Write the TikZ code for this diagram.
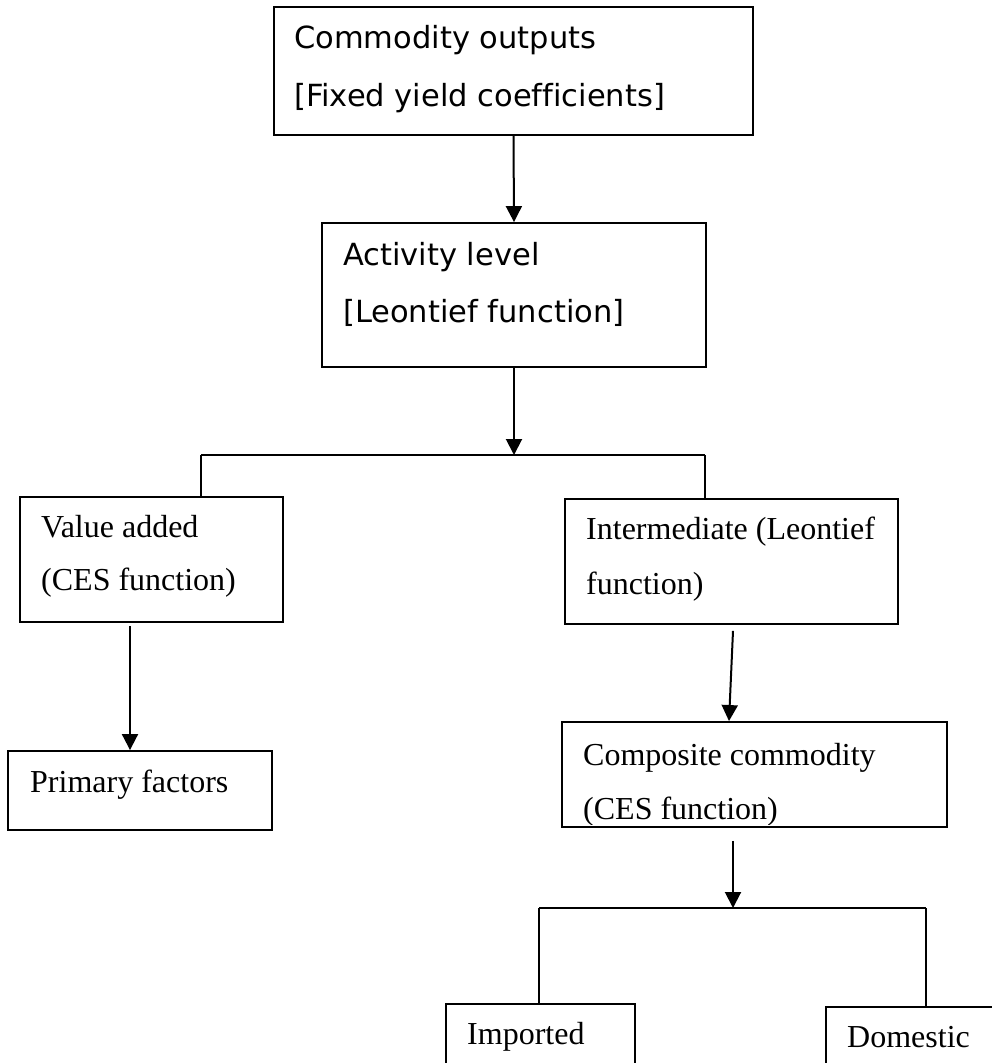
\documentclass[tikz,border=0pt]{standalone}
\usepackage{fontspec}
\setmainfont{Liberation Serif}
\newfontfamily\dvsans[Ligatures=NoCommon]{DejaVu Sans}
\usetikzlibrary{arrows.meta,calc}
\tikzset{
  boxnode/.style={draw, line width=1.9pt, rectangle, inner sep=0pt},
  sanstxt/.style={anchor=base west, inner sep=0pt, font=\dvsans\fontsize{30.5}{37}\selectfont},
  seriftxt/.style={anchor=base west, inner sep=0pt, font=\fontsize{32}{38}\selectfont},
  conn/.style={line width=2pt},
  arr/.style={line width=2pt, -{Triangle[width=16pt,length=16pt]}}
}
\begin{document}
\begin{tikzpicture}[x=1pt,y=-1pt]
\useasboundingbox (0,0) rectangle (992,1063);
\clip (0,0) rectangle (992,1063);
% boxes
\node[boxnode, minimum width=479pt, minimum height=128pt] (top) at (513.5,71) {};
\node[boxnode, minimum width=384pt, minimum height=144pt] (act) at (514,295) {};
\node[boxnode, minimum width=263pt, minimum height=125pt] (va) at (151.5,559.5) {};
\node[boxnode, minimum width=264pt, minimum height=79pt] (pf) at (140,790.5) {};
\node[boxnode, minimum width=333pt, minimum height=125pt] (im) at (731.5,561.5) {};
\node[boxnode, minimum width=385pt, minimum height=105pt] (cc) at (754.5,774.5) {};
\node[boxnode, minimum width=189pt, minimum height=120pt] (imp) at (540.5,1064) {};
\node[boxnode, minimum width=200pt, minimum height=120pt] (dom) at (926,1067) {};
% texts
\node[sanstxt] (t1a) at (294,48) {Commodity outputs};
\node[sanstxt] (t1b) at (294,106) {[Fixed yield coefficients]};
\node[sanstxt] (t2a) at (343,265) {Activity level};
\node[sanstxt] (t2b) at (343,322) {[Leontief function]};
\node[seriftxt] (t3a) at (41,537) {Value added};
\node[seriftxt] (t3b) at (41,590) {(CES function)};
\node[seriftxt] (t4) at (30,792) {Primary factors};
\node[seriftxt] (t5a) at (586,539) {Intermediate (Leontief};
\node[seriftxt] (t5b) at (586,594) {function)};
\node[seriftxt] (t6a) at (583,765) {Composite commodity};
\begin{scope}
\clip (560,722) rectangle (947,824);
\node[seriftxt] (t6b) at (583,819) {(CES function)};
\end{scope}
\node[seriftxt] (t7) at (467,1044) {Imported};
\node[seriftxt] (t8) at (847,1047) {Domestic};
% junction coordinates
\coordinate (j1) at (514,455);
\coordinate (jL) at (201,455);
\coordinate (jR) at (705,455);
\coordinate (j2) at (733,908);
\coordinate (kL) at (539,908);
\coordinate (kR) at (926,908);
% connectors
\draw[arr] (top.south) -- (act.north);
\draw[arr] (act.south) -- (j1);
\draw[conn] (jL) -- (jR);
\draw[conn] (jL) -- (jL |- va.north);
\draw[conn] (jR) -- (jR |- im.north);
\draw[arr] ($(va.south)+(-21.5,3)$) -- ($(pf.north)+(-10,0)$);
\draw[arr] ($(im.south)+(1.5,6)$) -- ($(cc.north)+(-25.5,0)$);
\draw[arr] ($(cc.south)+(-21.5,13)$) -- (j2);
\draw[conn] (kL) -- (kR);
\draw[conn] (kL) -- (kL |- imp.north);
\draw[conn] (kR) -- (kR |- dom.north);
\end{tikzpicture}
\end{document}
